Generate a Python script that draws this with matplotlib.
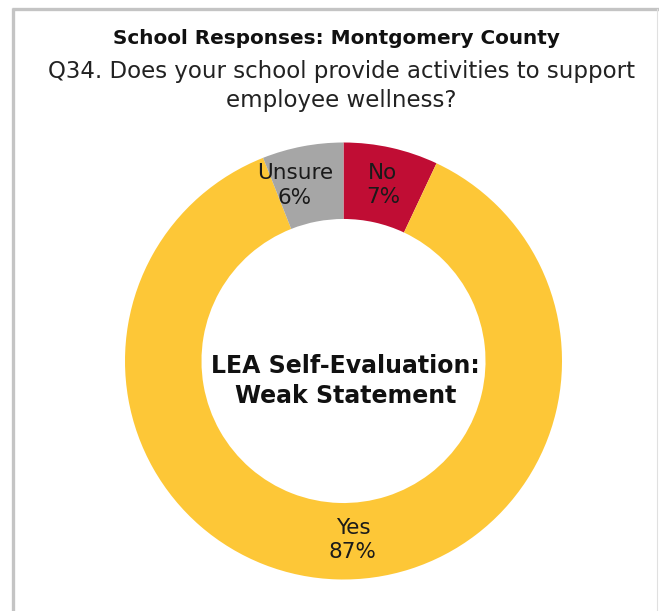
import matplotlib
matplotlib.use("Agg")
import matplotlib.pyplot as plt
from matplotlib.lines import Line2D
import numpy as np

# data
labels = ["No", "Yes", "Unsure"]
values = [7, 87, 6]
colors = ["#C00D34", "#FDC737", "#A6A6A6"]

title = "School Responses: Montgomery County"
subtitle = "Q34. Does your school provide activities to support\nemployee wellness?"
center_text = "LEA Self-Evaluation:\nWeak Statement"

plt.rcParams['font.family'] = ['DejaVu Sans']

W, H = 659, 611
fig = plt.figure(figsize=(W / 100, H / 100), dpi=100)
fig.patch.set_facecolor("white")

# donut axes: centre (343.5, 361) px, radius 218.5 px
cx, cy, R = 343.5, 361, 218.5
ax = fig.add_axes([(cx - R) / W, (H - cy - R) / H, 2 * R / W, 2 * R / H])
wedges, _ = ax.pie(values, colors=colors, startangle=90, counterclock=False,
                   radius=1.0, wedgeprops=dict(width=0.35, edgecolor="none"))
ax.set_aspect("auto")
ax.set_xlim(-1, 1)
ax.set_ylim(-1, 1)
ax.axis("off")

# label radius and angular nudge (degrees) per slice
label_pos = {"No": (0.825, 0.0), "Yes": (0.82, 4.8), "Unsure": (0.835, 4.6)}
for w, lab, v in zip(wedges, labels, values):
    r, nudge = label_pos[lab]
    ang = np.deg2rad((w.theta1 + w.theta2) / 2 + nudge)
    ax.text(r * np.cos(ang), r * np.sin(ang), f"{lab}\n{v}%", ha="center", va="center",
            fontsize=15.5, color="#1a1a1a", linespacing=1.3)

ax.text(0.01, -0.09, center_text, ha="center", va="center", fontsize=17,
        fontweight="bold", color="#111111", linespacing=1.3)

fig.text(336 / W, 1 - 38 / H, title, ha="center", va="center", fontsize=14.4,
         fontweight="bold", color="#111111")
fig.text(341 / W, 1 - 86 / H, subtitle, ha="center", va="center", fontsize=16.5,
         color="#222222", linespacing=1.3)

# frame lines
fig.add_artist(Line2D([13 / W, 13 / W], [0, 1 - 8 / H], transform=fig.transFigure,
                      color="#c4c4c4", linewidth=2.4, solid_capstyle="butt"))
fig.add_artist(Line2D([12 / W, 1], [1 - 9 / H, 1 - 9 / H], transform=fig.transFigure,
                      color="#c4c4c4", linewidth=2.4, solid_capstyle="butt"))
fig.add_artist(Line2D([657 / W, 657 / W], [0, 1 - 9 / H], transform=fig.transFigure,
                      color="#e0e0e0", linewidth=0.8))

fig.savefig("out.png", dpi=100, facecolor="white")
